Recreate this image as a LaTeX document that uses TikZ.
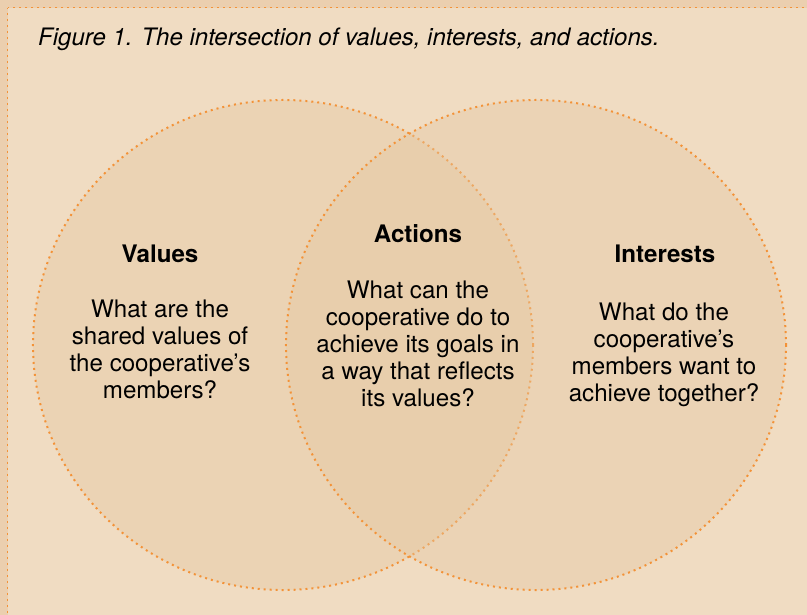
\documentclass[tikz,border=0pt]{standalone}
\usepackage{fontspec}
\setmainfont{TeX Gyre Heros}
\usepackage{tikz}
\usetikzlibrary{shapes.geometric}

\definecolor{band}{HTML}{EBCFAF}
\definecolor{paper}{HTML}{F0DCC2}
\definecolor{ringfill}{HTML}{EBD3B4}
\definecolor{ringtint}{HTML}{E4C7A2}
\definecolor{dots}{HTML}{F39237}

\begin{document}
\begin{tikzpicture}[x = 0.03cm, y = -0.03cm,
                      dotline/.style = {draw = dots, line width = 1.7pt, dash pattern = on 1.7pt off 3.4pt},
                      ring/.style = {ellipse, dotline, minimum width = 15cm, minimum height = 14.7cm, inner sep = 0pt},
                      heading/.style = {anchor = base, inner sep = 0pt, font = \fontsize{20.6}{23}\selectfont\bfseries},
                      body/.style = {anchor = north, inner sep = 0pt, align = center, font = \fontsize{20.6}{23}\selectfont}]
    \useasboundingbox (0, 0) rectangle (807, 615);
    \fill [band] (0, 0) rectangle (807, 615);
    \draw [dotline, fill = paper] (7.5, 7.5) rectangle (820, 630);

    \node [anchor = base west, inner sep = 0pt, font = \fontsize{20.5}{23}\selectfont\itshape] (caption) at (38, 45)
        {Figure 1. The intersection of values, interests, and actions.};

    \node [ring, fill = ringfill] (valring) at (283, 345) {};
    \node [ring, fill = ringtint, fill opacity = 0.4, draw opacity = 1] (intring) at (536, 345) {};

    \node [heading] (valhead) at (160, 262) {Values};
    \node [body] (valtext) at (160, 300) {What are the\\shared values of\\the cooperative’s\\members?};

    \node [heading] (acthead) at (418, 242) {Actions};
    \node [body] (acttext) at (418, 281) {What can the\\cooperative do to\\achieve its goals in\\a way that reflects\\its values?};

    \node [heading] (inthead) at (665, 262) {Interests};
    \node [body] (inttext) at (664, 303) {What do the\\cooperative’s\\members want to\\achieve together?};
\end{tikzpicture}
\end{document}
